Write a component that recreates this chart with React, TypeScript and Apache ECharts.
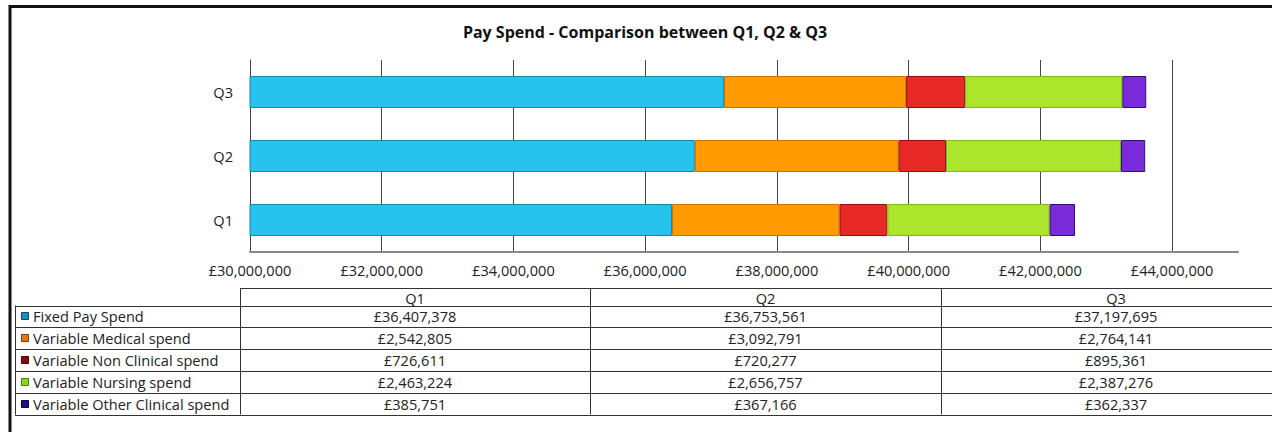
import React, { useEffect, useRef } from "react";
import * as echarts from "echarts";

const categories = ["Q1", "Q2", "Q3"];
const seriesNames = [
  "Fixed Pay Spend",
  "Variable Medical spend",
  "Variable Non Clinical spend",
  "Variable Nursing spend",
  "Variable Other Clinical spend",
];
const fixedPay = [36407378, 36753561, 37197695];
const medical = [2542805, 3092791, 2764141];
const nonClinical = [726611, 720277, 895361];
const nursing = [2463224, 2656757, 2387276];
const otherClinical = [385751, 367166, 362337];
const seriesValues = [fixedPay, medical, nonClinical, nursing, otherClinical];

const barColors = ["#25c2ec", "#ff9a00", "#e82a26", "#abe62c", "#7a2ad8"];
const barBorders = ["#1686ad", "#c87400", "#8e1010", "#7fb81c", "#2a1080"];
const keyColors = ["#1a90c2", "#e07a12", "#8b0c0c", "#8fd41c", "#1c1488"];
const keyBorders = ["#0c4a66", "#7a3c06", "#4a0404", "#4c7a0c", "#0a0840"];

const axisMin = 30000000;
const axisMax = 45000000;
const axisStep = 2000000;

const FONT = "'Open Sans', 'Noto Sans', sans-serif";
const FS = 14.6;
const fmt = (n: number) => "£" + n.toLocaleString("en-GB");

export default function App() {
  const ref = useRef<HTMLDivElement>(null);

  useEffect(() => {
    document.body.style.margin = "0";
    const chart = echarts.init(ref.current!, undefined, { renderer: "svg" });

    const tableLeft = 15;
    const colEdges = [240, 590, 941, 1291];
    const headerTop = 288.5;
    const bodyTop = 305.5;
    const rowH = 21.8;
    const lineColor = "#333";
    const g: any[] = [];

    // outer frame
    g.push({ type: "line", shape: { x1: 9, y1: 6.5, x2: 1272, y2: 6.5 }, style: { stroke: "#111", lineWidth: 3 } });
    g.push({ type: "line", shape: { x1: 10, y1: 5, x2: 10, y2: 432 }, style: { stroke: "#111", lineWidth: 3 } });

    // table lines
    const bottom = bodyTop + rowH * seriesNames.length;
    g.push({ type: "line", shape: { x1: colEdges[0], y1: headerTop, x2: 1272, y2: headerTop }, style: { stroke: lineColor, lineWidth: 1 } });
    for (let i = 0; i <= seriesNames.length; i++) {
      const y = Math.round(bodyTop + rowH * i) + 0.5;
      g.push({ type: "line", shape: { x1: tableLeft, y1: y, x2: 1272, y2: y }, style: { stroke: lineColor, lineWidth: 1 } });
    }
    g.push({ type: "line", shape: { x1: tableLeft + 0.5, y1: bodyTop, x2: tableLeft + 0.5, y2: bottom }, style: { stroke: lineColor, lineWidth: 1 } });
    colEdges.slice(0, 3).forEach((x) => {
      g.push({ type: "line", shape: { x1: x + 0.5, y1: headerTop, x2: x + 0.5, y2: bottom }, style: { stroke: lineColor, lineWidth: 1 } });
    });

    // header
    categories.forEach((c, j) => {
      g.push({
        type: "text",
        x: (colEdges[j] + colEdges[j + 1]) / 2,
        y: (headerTop + bodyTop) / 2 + 0.5,
        style: { text: c, fill: "#222", fontSize: FS, fontFamily: FONT, textAlign: "center", textVerticalAlign: "middle" },
      });
    });

    // rows
    seriesNames.forEach((name, i) => {
      const cy = bodyTop + rowH * i + rowH / 2;
      g.push({
        type: "rect",
        shape: { x: 21.5, y: Math.round(cy - 4) + 0.5, width: 7, height: 7 },
        style: { fill: keyColors[i], stroke: keyBorders[i], lineWidth: 1 },
      });
      g.push({
        type: "text",
        x: 33,
        y: cy,
        style: { text: name, fill: "#222", fontSize: FS, fontFamily: FONT, textAlign: "left", textVerticalAlign: "middle" },
      });
      categories.forEach((_, j) => {
        g.push({
          type: "text",
          x: (colEdges[j] + colEdges[j + 1]) / 2,
          y: cy,
          style: { text: fmt(seriesValues[i][j]), fill: "#222", fontSize: FS, fontFamily: FONT, textAlign: "center", textVerticalAlign: "middle" },
        });
      });
    });

    chart.setOption({
      animation: false,
      backgroundColor: "#fff",
      title: {
        text: "Pay Spend - Comparison between Q1, Q2 & Q3",
        left: 640,
        top: 19,
        textAlign: "center",
        textStyle: { fontFamily: FONT, fontSize: 16, fontWeight: "bold", color: "#111" },
      },
      grid: { left: 250, right: 34, top: 60, bottom: 180, containLabel: false },
      xAxis: {
        type: "value",
        min: axisMin,
        max: axisMax,
        interval: axisStep,
        axisLine: { show: true, lineStyle: { color: "#888", width: 2 } },
        axisTick: { show: false },
        axisLabel: {
          showMaxLabel: false,
          margin: 10,
          color: "#222",
          fontSize: FS,
          fontFamily: FONT,
          formatter: (v: number) => fmt(v),
        },
        splitLine: { show: true, showMaxLine: false, showMinLine: true, lineStyle: { color: "#444", width: 1 } },
      },
      yAxis: {
        type: "category",
        data: categories,
        axisLine: { show: true, lineStyle: { color: "#444", width: 1 } },
        axisTick: { show: false },
        axisLabel: { margin: 17, color: "#222", fontSize: FS, fontFamily: FONT },
      },
      series: seriesNames.map((name, i) => ({
        name,
        type: "bar",
        stack: "total",
        barWidth: "50%",
        clip: true,
        data: seriesValues[i],
        itemStyle: { color: barColors[i], borderColor: barBorders[i], borderWidth: 1 },
      })),
      graphic: g,
    });

    return () => chart.dispose();
  }, []);

  return <div ref={ref} style={{ position: "fixed", left: 0, top: 0, width: 1272, height: 432 }} />;
}
